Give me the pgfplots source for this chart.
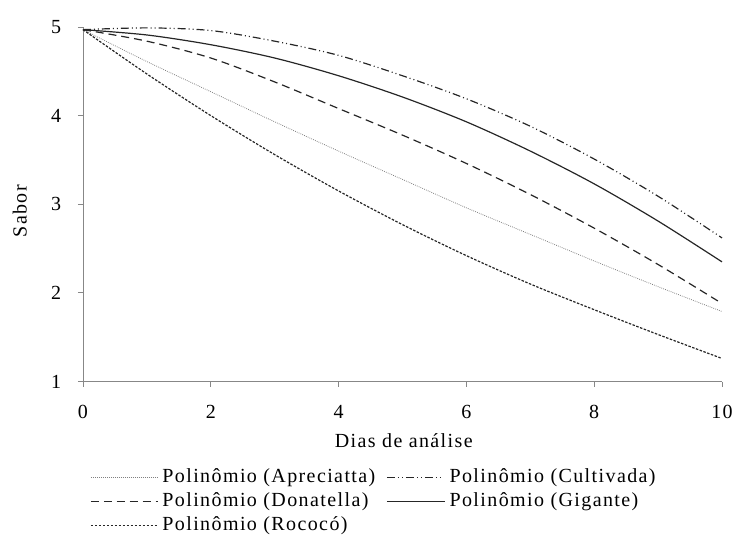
\documentclass[border=0pt]{standalone}
\usepackage{fontspec}
\setmainfont{Liberation Serif}[LetterSpace=7]
\usepackage{pgfplots}
\pgfplotsset{compat=1.18}
\definecolor{axgray}{RGB}{135,135,135}
\pgfplotsset{
  longleg/.style={legend image code/.code={\draw[##1] (0bp,0bp) -- (67bp,0bp);}},
  midleg/.style={legend image code/.code={\draw[##1] (0bp,0bp) -- (55bp,0bp);}},
  shortleg/.style={legend image code/.code={\path (0bp,0bp) -- (22bp,0bp); \draw[##1] (22bp,0bp) -- (58bp,0bp);}},
}
\newcommand{\legshift}{\hspace*{-7bp}}
\begin{document}
\fontsize{20bp}{20bp}\selectfont
\begin{tikzpicture}
\begin{axis}[
  scale only axis, width=639bp, height=354.5bp,
  xmin=0, xmax=10, ymin=1, ymax=5,
  axis x line*=bottom, axis y line*=left,
  axis line style={draw=axgray, line width=0.9pt, -},
  xtick={0,2,...,10}, ytick={1,2,3,4,5},
  tick align=outside, major tick length=5bp,
  tick style={draw=axgray, line width=0.9pt},
  /pgf/number format/assume math mode=true,
  tick label style={font=\fontsize{20bp}{20bp}\selectfont},
  xticklabel style={yshift=-12bp},
  yticklabel style={xshift=-10bp},
  xlabel={Dias de análise},
  ylabel={Sabor},
  xlabel style={at={(axis description cs:0.502,-0.168)}, anchor=center, font=\fontsize{20bp}{20bp}\selectfont},
  ylabel style={at={(axis description cs:-0.099,0.48)}, anchor=center, font=\fontsize{20bp}{20bp}\selectfont},
  clip=false,
  legend columns=2,
  legend cell align=left,
  legend style={at={(axis description cs:0.011,-0.2355)}, anchor=north west, draw=none, fill=none,
    font=\fontsize{20bp}{20bp}\selectfont, row sep=0bp, column sep=10bp, inner sep=0pt,
    nodes={inner xsep=1bp, inner ysep=2bp, text height=15bp, text depth=5bp}},
  longleg,
]
% Apreciatta
\addplot[smooth, color=gray, line width=0.8pt, dash pattern=on 0.8pt off 1.2pt] coordinates {
(0,4.97) (1,4.61) (2,4.27) (3,3.93) (4,3.60) (5,3.28) (6,2.96) (7,2.66) (8,2.36) (9,2.07) (10,1.79)};
\addlegendentry{\legshift Polinômio (Apreciatta)}
% Cultivada
\addplot[smooth, color=black!85, line width=1.2pt, dash pattern=on 8pt off 3pt on 1pt off 3pt on 1pt off 3pt, midleg] coordinates {
(0,4.97) (1,4.99) (2,4.96) (3,4.84) (4,4.68) (5,4.45) (6,4.19) (7,3.88) (8,3.51) (9,3.09) (10,2.62)};
\addlegendentry{\legshift Polinômio (Cultivada)}
% Donatella
\addplot[smooth, color=black!85, line width=1.2pt, dash pattern=on 8pt off 5pt] coordinates {
(0,4.97) (1,4.84) (2,4.65) (3,4.38) (4,4.08) (5,3.78) (6,3.46) (7,3.11) (8,2.73) (9,2.32) (10,1.88)};
\addlegendentry{\legshift Polinômio (Donatella)}
% Gigante
\addplot[smooth, color=black!85, line width=1.2pt, shortleg] coordinates {
(0,4.97) (1,4.91) (2,4.80) (3,4.65) (4,4.45) (5,4.21) (6,3.93) (7,3.60) (8,3.23) (9,2.81) (10,2.35)};
\addlegendentry{\legshift Polinômio (Gigante)}
% Rococo
\addplot[smooth, color=black!85, line width=1.2pt, dash pattern=on 2.5pt off 1.5pt] coordinates {
(0,4.97) (1,4.47) (2,4.00) (3,3.56) (4,3.15) (5,2.77) (6,2.42) (7,2.10) (8,1.81) (9,1.53) (10,1.26)};
\addlegendentry{\legshift Polinômio (Rococó)}
\end{axis}
\pgfresetboundingbox
\path (-83bp,-154.5bp) rectangle (655bp,381.5bp);
\end{tikzpicture}
\end{document}
